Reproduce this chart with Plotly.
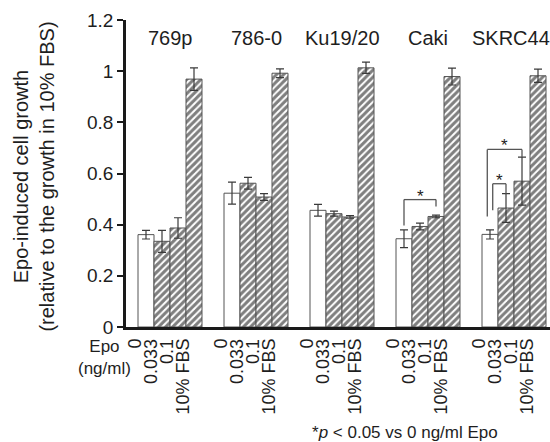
import plotly.graph_objects as go

# ---- data ----
cell_lines = ["769p", "786-0", "Ku19/20", "Caki", "SKRC44"]
doses = ["0", "0.033", "0.1", "10% FBS"]
growth_0 = [0.361, 0.523, 0.456, 0.345, 0.362]
growth_0033 = [0.335, 0.562, 0.443, 0.393, 0.465]
growth_01 = [0.387, 0.508, 0.430, 0.432, 0.570]
growth_fbs = [0.969, 0.992, 1.013, 0.979, 0.982]
err_0 = [0.017, 0.043, 0.023, 0.035, 0.018]
err_0033 = [0.043, 0.023, 0.010, 0.013, 0.056]
err_01 = [0.040, 0.013, 0.005, 0.005, 0.094]
err_fbs = [0.044, 0.017, 0.022, 0.033, 0.026]
# significant comparisons: (cell line index, dose index a, dose index b)
significant = [(3, 0, 2), (4, 0, 1), (4, 0, 2)]

values = [growth_0, growth_0033, growth_01, growth_fbs]
errors = [err_0, err_0033, err_01, err_fbs]

# ---- layout helpers ----
GAP = 5.375  # group spacing in bar widths
FONT = "Liberation Sans, Arial, sans-serif"
TXT = "#1e1e1e"

def xpos(g, b):
    return g * GAP + b

fig = go.Figure()
for b, (vals, errs) in enumerate(zip(values, errors)):
    hatched = b > 0
    fig.add_trace(go.Bar(
        x=[xpos(g, b) for g in range(len(cell_lines))],
        y=vals,
        width=1,
        marker=dict(
            color="white",
            line=dict(color="#555555", width=1),
            pattern=dict(shape="/" if hatched else "", fgcolor="#000000",
                         bgcolor="white", size=5, solidity=0.6),
        ),
        error_y=dict(type="data", array=errs, visible=True, color="#3a3a3a",
                     thickness=1.2, width=4),
        showlegend=False,
        hoverinfo="skip",
    ))

annotations = []
shapes = []

# group labels
for g, name in enumerate(cell_lines):
    annotations.append(dict(x=xpos(g, 1.5), y=1.13, xref="x", yref="y",
                            text=name, showarrow=False,
                            xshift=-3 if g == len(cell_lines) - 1 else 0,
                            font=dict(size=20, family=FONT, color=TXT)))

# rotated dose labels under each bar
for g in range(len(cell_lines)):
    for b, d in enumerate(doses):
        annotations.append(dict(x=xpos(g, b), y=0, xref="x", yref="paper",
                                text=d, showarrow=False, textangle=-90,
                                xanchor="center", yanchor="top",
                                xshift=-11.5, yshift=-10,
                                font=dict(size=18, family=FONT, color=TXT)))

# significance brackets (heights in data units, set for legibility)
bracket_style = {
    (3, 0, 2): dict(top=0.498, lb=0.397, rb=0.471, lx=0.0),
    (4, 0, 1): dict(top=0.560, lb=0.456, rb=0.521, lx=0.17),
    (4, 0, 2): dict(top=0.694, lb=0.432, rb=0.664, lx=-0.17),
}
for key in significant:
    g, a, bb = key
    st = bracket_style[key]
    x0 = xpos(g, a) + st["lx"]
    x1 = xpos(g, bb)
    line = dict(color="#555555", width=1.3)
    shapes.append(dict(type="line", xref="x", yref="y", x0=x0, x1=x0,
                       y0=st["lb"], y1=st["top"], line=line))
    shapes.append(dict(type="line", xref="x", yref="y", x0=x0, x1=x1,
                       y0=st["top"], y1=st["top"], line=line))
    shapes.append(dict(type="line", xref="x", yref="y", x0=x1, x1=x1,
                       y0=st["top"], y1=st["rb"], line=line))
    annotations.append(dict(x=(x0 + x1) / 2, y=st["top"], xref="x", yref="y",
                            text="*", showarrow=False, yanchor="bottom",
                            yshift=-8,
                            font=dict(size=17, family=FONT, color=TXT)))

# y-axis title (two lines)
annotations.append(dict(x=0, y=0.49, xref="paper", yref="paper",
                        text="Epo-induced cell growth<br>(relative to the growth in 10% FBS)",
                        showarrow=False, textangle=-90, xanchor="center",
                        yanchor="middle", xshift=-92,
                        font=dict(size=20, family=FONT, color=TXT)))

# Epo (ng/ml) label
annotations.append(dict(x=0, y=0, xref="paper", yref="paper",
                        text="Epo<br>(ng/ml)", showarrow=False,
                        xanchor="center", yanchor="top", xshift=-22, yshift=-8,
                        font=dict(size=17, family=FONT, color=TXT)))

# footnote
annotations.append(dict(x=(405 - 126) / 424, y=0, xref="paper", yref="paper",
                        text="*<i>p</i> &lt; 0.05 vs 0 ng/ml Epo", showarrow=False,
                        xanchor="center", yanchor="middle", yshift=-105,
                        font=dict(size=17, family=FONT, color=TXT)))

fig.update_layout(
    width=550, height=442,
    margin=dict(l=126, r=0, t=20, b=115),
    plot_bgcolor="white", paper_bgcolor="white",
    barmode="overlay",
    xaxis=dict(range=[-1.25, 25.25], showticklabels=False, ticks="",
               showgrid=False, zeroline=False, showline=True,
               linecolor="#1a1a1a", linewidth=2.5),
    yaxis=dict(range=[0, 1.2], tickvals=[0, 0.2, 0.4, 0.6, 0.8, 1, 1.2],
               ticktext=["0", "0.2", "0.4", "0.6", "0.8", "1", "1.2"],
               ticks="outside", ticklen=6, tickwidth=2, tickcolor="#1a1a1a",
               showgrid=False, zeroline=False, showline=True,
               linecolor="#1a1a1a", linewidth=2.5,
               tickfont=dict(size=19, family=FONT, color=TXT)),
    annotations=annotations,
    shapes=shapes,
)

fig.write_html("out.html")
